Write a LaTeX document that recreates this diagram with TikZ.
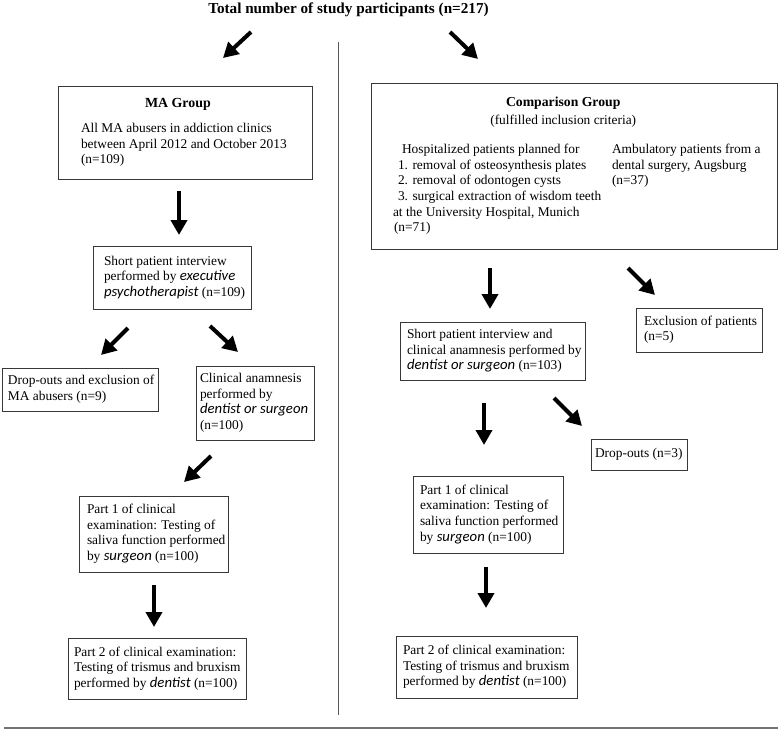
\documentclass[tikz,border=0pt]{standalone}
\usepackage{fontspec}
\setmainfont{Liberation Serif}
\newfontfamily\sansit{Carlito}[Scale=1.1]
\newcommand\ita[1]{{\sansit\itshape #1}}
\usetikzlibrary{arrows.meta}
\tikzset{
  fbox/.style={draw=black!78, line width=0.8pt, rectangle, inner ysep=0pt, outer sep=0pt,
    font=\fontsize{13.4}{15.6}\selectfont},
  bigarrow/.style={line width=4pt, -{Triangle[length=15pt,width=16pt]}},
  rule/.style={draw=black!65, line width=1pt},
  titletext/.style={font=\fontsize{15.2}{18}\selectfont\bfseries, inner sep=0pt},
}
\newcommand\flowbox[7]{%
  \node[fbox, minimum width={(#4)-(#2)}, minimum height={(#5)-(#3)}, inner xsep=#6pt]
    (#1) at ({((#2)+(#4))/2},{((#3)+(#5))/2})
    {\makebox[\dimexpr #4pt-#2pt-#6pt-#6pt\relax][l]{\begin{tabular}{@{}l@{}}#7\end{tabular}}};}
\begin{document}
\begin{tikzpicture}[x=1pt,y=-1pt]
\useasboundingbox (0,0) rectangle (778,731);

% title
\node[titletext, anchor=base] (title) at (348.5,13) {Total number of study participants (n=217)};

% rules
\coordinate (divtop) at (338,42);
\coordinate (divbot) at (338,715);
\draw[rule] (divtop) -- (divbot);
\coordinate (hl) at (4,728);
\coordinate (hr) at (778,728);
\draw[rule, draw=black!55, line width=1.2pt] (hl) -- (hr);

% ---------- left column ----------
\flowbox{ma}{58}{86}{312}{179}{23}{%
  \multicolumn{1}{@{}c@{\hspace{12pt}}}{\fontsize{13.9}{15.6}\selectfont\bfseries MA Group}\\[9.5pt]
  All MA abusers in addiction clinics\\
  between April 2012 and October 2013\\
  (n=109)}

\flowbox{spl}{93}{246}{251}{309}{11}{%
  Short patient interview\\
  performed by \ita{executive}\\
  \ita{psychotherapist} (n=109)}

\flowbox{dol}{2}{368}{158}{411}{6}{%
  Drop-outs and exclusion of\\
  MA abusers (n=9)}

\flowbox{cal}{196}{366}{314}{440}{4}{%
  Clinical anamnesis\\
  performed by\\
  \ita{dentist or surgeon}\\
  (n=100)}

\flowbox{p1l}{79}{496}{228}{572}{8}{%
  Part 1 of clinical\\
  examination: Testing of\\
  saliva function performed\\
  by \ita{surgeon} (n=100)}

\flowbox{p2l}{68}{638}{246}{699}{6}{%
  Part 2 of clinical examination:\\
  Testing of trismus and bruxism\\
  performed by \ita{dentist} (n=100)}

% ---------- right column ----------
\node[fbox, minimum width=406, minimum height=166, inner xsep=22pt] (cg) at (574,166)
  {\makebox[362pt][l]{\begin{tabular}{@{}p{219pt}@{}l@{}}
  \multicolumn{2}{@{}c@{\hspace{27pt}}}{\fontsize{13.7}{15.6}\selectfont\bfseries Comparison Group}\\[2.5pt]
  \multicolumn{2}{@{}c@{\hspace{27pt}}}{(fulfilled inclusion criteria)}\\[13.5pt]
  \hspace*{9pt}Hospitalized patients planned for & Ambulatory patients from a\\
  \hspace*{5pt}1. removal of osteosynthesis plates & dental surgery, Augsburg\\
  \hspace*{5pt}2. removal of odontogen cysts & (n=37)\\
  \hspace*{5pt}3. surgical extraction of wisdom teeth & \\
  at the University Hospital, Munich & \\
  \hspace*{1pt}(n=71) &
  \end{tabular}}};

\flowbox{exc}{636}{308}{762}{352}{8}{%
  Exclusion of patients\\
  (n=5)}

\flowbox{spr}{400}{322}{585}{380}{7}{%
  Short patient interview and\\
  clinical anamnesis performed by\\
  \ita{dentist or surgeon} (n=103)}

\flowbox{dor}{591}{439}{687}{470}{4}{%
  Drop-outs (n=3)}

\flowbox{p1r}{413}{476}{563}{553}{7}{%
  Part 1 of clinical\\
  examination: Testing of\\
  saliva function performed\\
  by \ita{surgeon} (n=100)}

\flowbox{p2r}{396}{636}{577}{698}{7}{%
  Part 2 of clinical examination:\\
  Testing of trismus and bruxism\\
  performed by \ita{dentist} (n=100)}

% ---------- arrows ----------
\coordinate (a1s) at (251,32);  \coordinate (a1e) at (223,58);
\coordinate (a2s) at (450,32);  \coordinate (a2e) at (478,59);
\coordinate (a3s) at (179,191); \coordinate (a3e) at (179,235);
\coordinate (a4s) at (128,328); \coordinate (a4e) at (101,355);
\coordinate (a5s) at (210,326); \coordinate (a5e) at (238,352);
\coordinate (a6s) at (211,456); \coordinate (a6e) at (184,482);
\coordinate (a7s) at (154,585); \coordinate (a7e) at (154,627);
\coordinate (a8s) at (490,268); \coordinate (a8e) at (490,309);
\coordinate (a9s) at (628,268); \coordinate (a9e) at (655,295);
\coordinate (a10s) at (484,403); \coordinate (a10e) at (484,445);
\coordinate (a11s) at (554,398); \coordinate (a11e) at (582,426);
\coordinate (a12s) at (486,567); \coordinate (a12e) at (486,608);
\foreach \i in {1,...,12} \draw[bigarrow] (a\i s) -- (a\i e);
\end{tikzpicture}
\end{document}
